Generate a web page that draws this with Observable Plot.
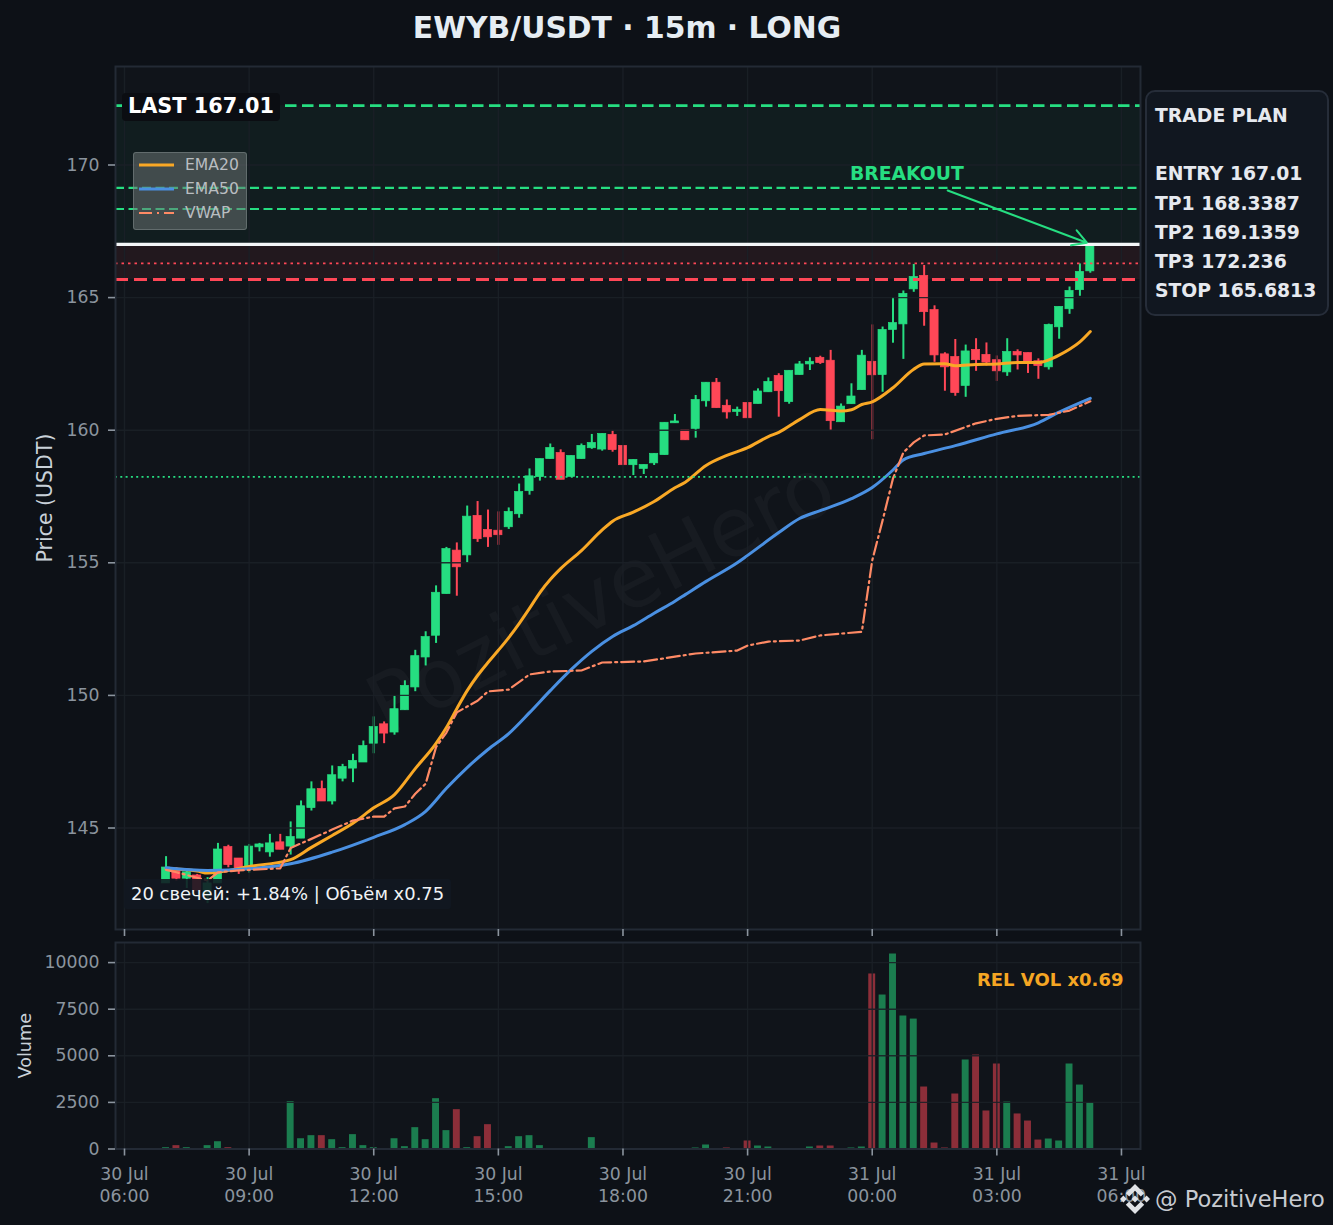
<!DOCTYPE html>
<html><head><meta charset="utf-8">
<script src="https://cdn.jsdelivr.net/npm/d3@7"></script>
<script src="https://cdn.jsdelivr.net/npm/@observablehq/plot@0.6"></script>
<style>
html,body{margin:0;padding:0;background:#0d1117;}
#page{position:relative;width:1333px;height:1225px;overflow:hidden;background:#0d1117;font-family:"DejaVu Sans",sans-serif;}
#page>svg,#page>div{position:absolute;}
#plots{left:0;top:0;width:1333px;height:1225px;}
#plots svg{position:absolute;left:0;max-width:none;}
.title{left:0;width:1254px;text-align:center;top:9px;font-weight:700;font-size:29.8px;color:#e6edf3;line-height:38px;}
.last{left:122px;top:93px;width:158px;height:28px;background:#0b0d12;border-radius:4px;color:#fff;font-weight:700;font-size:20.8px;line-height:27px;text-indent:6px;white-space:nowrap;}
.legend{left:133px;top:152px;width:112px;height:76px;background:rgba(110,118,118,.52);border:1px solid rgba(140,148,148,.45);border-radius:3px;}
.legend span{position:absolute;left:51px;font-size:15.6px;color:#b9bdc1;line-height:18px;}
.legend svg{position:absolute;left:5px;top:0;}
.note{left:124px;top:879px;width:327px;height:30px;background:rgba(17,24,33,.88);border-radius:3px;color:#f0f3f6;font-size:17.95px;line-height:30px;text-indent:7px;white-space:nowrap;}
.plan{left:1145px;top:90px;width:180px;height:222px;background:#111720;border:2px solid #262d39;border-radius:10px;color:#e6e9ef;font-weight:700;font-size:18.8px;line-height:29.2px;white-space:pre;padding:0;}
.plan div{position:absolute;left:8px;top:9px;}
.brand{left:1155px;top:1184px;font-size:22.5px;color:#c7cbd1;line-height:30px;white-space:nowrap;}
</style></head><body>
<div id="page">
<div id="plots"></div>
<div class="title">EWYB/USDT · 15m · LONG</div>
<div class="last">LAST 167.01</div>
<div class="legend">
<svg width="50" height="76"><line x1="0" x2="35" y1="12" y2="12" stroke="#f9a825" stroke-width="2.8"/><line x1="0" x2="35" y1="36" y2="36" stroke="#4a90e2" stroke-width="2.8"/><line x1="0" x2="35" y1="60" y2="60" stroke="#ff8a65" stroke-width="2.2" stroke-dasharray="13,5,2,5"/></svg>
<span style="top:3px">EMA20</span><span style="top:27px">EMA50</span><span style="top:51px">VWAP</span>
</div>
<div class="note">20 свечей: +1.84% | Объём x0.75</div>
<div class="plan"><div>TRADE PLAN

ENTRY 167.01
TP1 168.3387
TP2 169.1359
TP3 172.236
STOP 165.6813</div></div>
<svg style="left:1120px;top:1184px" width="30" height="30" viewBox="0 0 126.61 126.61"><path fill="#dfe2e6" d="M38.73 53.2l24.59-24.58 24.6 24.6 14.3-14.31L63.32 0 24.43 38.9zM0 63.31l14.3-14.31 14.31 14.31-14.31 14.3zM38.73 73.41l24.59 24.59 24.6-24.6 14.31 14.29-38.9 38.91-38.91-38.88-.02-.02zM98 63.31l14.3-14.31 14.31 14.3-14.31 14.32zM77.83 63.3l-14.51-14.52-10.73 10.73-1.24 1.23-2.54 2.54 14.51 14.5 14.51-14.47z"/></svg>
<div class="brand">@ PozitiveHero</div>
</div>
<script>
const opens=[142.91,143.43,143.09,143.21,142.45,142.91,144.28,143.85,143.48,144.27,144.08,144.46,144.3,144.6,145.75,146.47,146.0,146.86,147.24,147.47,148.18,148.91,148.6,149.44,150.3,151.43,152.25,153.82,155.46,155.28,156.77,156.24,156.21,156.34,156.83,157.7,158.23,158.91,159.14,158.24,158.91,159.32,159.27,159.82,159.41,158.68,158.54,158.75,159.06,160.26,159.99,160.05,161.09,161.79,160.92,160.69,161.03,160.99,161.43,162.05,161.06,162.08,162.48,162.73,162.62,160.3,160.98,161.51,162.58,162.08,163.78,163.99,165.31,165.82,164.53,162.86,162.76,161.67,163.03,162.84,162.64,162.18,162.95,162.91,162.6,162.37,163.88,164.56,165.28,165.99];
const highs=[143.92,143.5,143.4,143.25,143.13,144.42,144.35,143.85,144.38,144.42,144.76,144.76,145.23,146.02,146.74,146.77,147.34,147.4,147.78,148.28,149.19,149.0,149.98,150.55,151.7,152.4,154.13,155.58,155.75,157.14,157.31,156.99,156.92,157.07,157.97,158.54,158.91,159.48,159.26,159.03,159.48,159.84,159.86,159.99,159.41,158.88,158.69,159.11,160.28,160.59,159.99,161.31,161.79,161.95,161.14,160.87,161.03,161.56,161.97,162.13,162.24,162.59,162.73,162.79,163.01,160.99,161.75,163.01,163.97,163.89,164.99,165.25,166.25,166.21,164.69,162.92,163.42,163.21,163.45,163.29,162.8,163.45,163.03,162.91,162.69,164.0,164.65,165.4,166.27,167.01];
const lows=[142.91,143.0,142.72,142.61,142.15,142.91,143.5,143.25,143.3,144.1,143.9,144.18,143.98,144.6,145.64,146.0,145.87,146.74,146.71,147.47,147.8,148.18,148.5,149.44,150.14,151.11,151.96,153.82,153.74,154.98,155.77,155.58,155.66,156.26,156.68,157.55,158.08,158.91,158.13,158.24,158.91,159.28,159.21,159.17,158.68,158.29,158.33,158.67,159.06,160.26,159.62,159.7,160.87,160.83,160.42,160.52,160.45,160.99,161.43,160.49,160.98,162.08,162.25,162.48,159.99,160.3,160.98,161.51,159.64,161.43,163.28,162.67,165.2,163.92,162.56,161.47,161.28,161.24,162.22,162.42,161.84,162.03,162.27,162.14,161.92,162.27,163.43,164.37,165.05,165.92];
const closes=[143.51,143.09,143.33,142.61,142.91,144.19,143.6,143.4,144.3,144.38,144.42,144.18,144.66,145.82,146.46,146.0,146.99,147.3,147.53,148.09,148.81,148.56,149.48,150.36,151.48,152.2,153.87,155.52,154.83,156.74,155.89,155.96,156.04,156.92,157.67,158.26,158.91,159.33,158.13,159.03,159.41,159.52,159.86,159.25,158.68,158.88,158.69,159.11,160.28,160.33,159.62,161.14,161.79,160.83,160.67,160.77,160.45,161.46,161.82,161.47,162.24,162.48,162.58,162.53,160.34,160.89,161.27,162.81,162.07,163.78,164.04,165.14,165.78,164.45,162.82,162.37,161.4,162.97,162.64,162.55,162.22,162.95,162.82,162.53,162.42,163.97,164.65,165.25,165.97,167.01];
const volumes=[70,180,70,0,180,390,70,0,0,0,0,0,2540,550,715,715,500,70,770,180,70,0,550,125,1145,500,2700,985,2110,70,660,1305,0,125,660,715,180,0,0,0,0,610,0,0,0,0,0,0,0,0,0,54,215,0,54,0,430,160,107,0,0,0,107,160,160,0,54,107,9390,8260,10460,7135,6970,3325,320,54,2950,4775,5040,2040,4560,2520,1880,1500,480,535,430,4560,3430,2470];

const ema20Index=[0,3,4,8,12,14,16,18,20,22,24,26,27,28,29,30,31,32,33,34,35,36,37,38,40,42,43,45,47,49,50,52,54,56,58,59,61,63,65,66,67,68,70,72,73,75,76,78,80,82,84,85,86,87,88,89];
const ema20Values=[143.47,143.38,143.3,143.55,143.81,144.27,144.72,145.18,145.76,146.26,147.24,148.19,148.79,149.5,150.18,150.75,151.24,151.7,152.18,152.71,153.28,153.88,154.37,154.78,155.46,156.24,156.57,156.91,157.31,157.83,158.04,158.67,159.05,159.34,159.76,159.92,160.4,160.78,160.72,160.77,160.97,161.07,161.6,162.3,162.5,162.51,162.43,162.48,162.5,162.55,162.55,162.65,162.83,163.05,163.33,163.72];
const ema50Index=[0,4,8,12,16,20,23,25,27,29,31,33,35,37,39,41,43,45,47,49,50,52,55,56,59,61,63,66,68,70,71,73,76,80,84,86,89];
const ema50Values=[143.5,143.4,143.46,143.65,144.09,144.65,145.13,145.63,146.5,147.28,147.96,148.56,149.35,150.18,150.97,151.66,152.22,152.63,153.1,153.55,153.8,154.3,155.0,155.28,156.14,156.67,156.97,157.42,157.84,158.5,158.88,159.12,159.42,159.86,160.28,160.68,161.2];
const vwapIndex=[0,1,4,5,7,11,12,14,16,18,20,21,22,23,24,25,26,27,28,29,30,31,33,35,37,40,42,46,51,55,56,58,61,63,67,68,69,70,71,72,73,75,78,80,82,85,87,89];
const vwapValues=[143.42,143.33,143.02,143.33,143.4,143.48,144.25,144.59,144.94,145.28,145.43,145.43,145.74,145.81,146.29,146.67,148.05,148.6,149.36,149.58,149.8,150.15,150.22,150.79,150.9,150.94,151.24,151.28,151.58,151.69,151.88,152.03,152.07,152.26,152.4,155.09,156.6,158.18,159.16,159.54,159.8,159.84,160.26,160.43,160.54,160.58,160.74,161.09];

const priceTicks=[145,150,155,160,165,170];
const volumeTicks=[0,2500,5000,7500,10000];
const levels={tp3:172.236,tp2:169.1359,tp1:168.3387,entry:167.01,stop:165.6813,upperDot:166.29,lowerDot:158.24};
const arrowFrom=[Date.UTC(2025,6,31,1,49),169.04], arrowTo=[Date.UTC(2025,6,31,5,10),167.07];

const GREEN="#26de81",RED="#ff4757",AMBER="#f9a825",BLUE="#4a90e2",SALMON="#ff8a65";
const GRID="#1b2027",FRAME="#232a35",TICK="#8b949e",LABEL="#c9d1d9",PANEL="#10141a";
const MIN=60000;
const start=Date.UTC(2025,6,30,7,0);
const time=i=>new Date(start+i*15*MIN);
const tickDates=d3.range(0,9).map(k=>new Date(Date.UTC(2025,6,30,6+3*k,0)));
const xDomain=[new Date(Date.UTC(2025,6,30,5,47)),new Date(Date.UTC(2025,6,31,6,27,30))];
const candles=opens.map((o,i)=>({t:time(i),o,h:highs[i],l:lows[i],c:closes[i],v:volumes[i],color:closes[i]>=o?GREEN:RED}));
const series=(idx,vals)=>idx.map((k,j)=>({t:time(k),p:vals[j]}));
const mon=d=>d.toLocaleString("en-GB",{day:"numeric",month:"short",timeZone:"UTC"});
const hm=d=>d.toISOString().slice(11,16);
const shared={width:1333,style:{background:"transparent",fontFamily:"DejaVu Sans, sans-serif",overflow:"visible"}};
const dt=d=>new Date(d);
const holder=document.getElementById("plots");
const main=Plot.plot({...shared,height:940,marginTop:66,marginBottom:11,marginLeft:115,marginRight:193,
 x:{type:"utc",domain:xDomain},y:{domain:[141.173,173.714]},
 marks:[
  Plot.rect([0],{x1:()=>xDomain[0],x2:()=>xDomain[1],y1:()=>141.173,y2:()=>173.714,fill:PANEL}),
  Plot.rect([0],{x1:()=>xDomain[0],x2:()=>xDomain[1],y1:()=>levels.entry,y2:()=>levels.tp3,fill:GREEN,fillOpacity:.05}),
  Plot.rect([0],{x1:()=>xDomain[0],x2:()=>xDomain[1],y1:()=>levels.stop,y2:()=>levels.entry,fill:RED,fillOpacity:.08}),
  Plot.text(["PozitiveHero"],{x:()=>new Date(Date.UTC(2025,6,30,17,29)),y:()=>153.7,text:d=>d,rotate:-27,fontSize:82,fill:"#ffffff",fillOpacity:.032}),
  Plot.ruleX(candles,{x:"t",y1:"l",y2:"h",stroke:"color",strokeWidth:2}),
  Plot.rect(candles,{x1:d=>new Date(+d.t-5.9*MIN),x2:d=>new Date(+d.t+5.9*MIN),y1:"o",y2:"c",fill:"color",stroke:"color",strokeWidth:.7}),
  Plot.gridX(tickDates,{stroke:GRID,strokeOpacity:.9,strokeWidth:1.4}),
  Plot.gridY(priceTicks,{stroke:GRID,strokeOpacity:.9,strokeWidth:1.4}),
  Plot.line(series(ema20Index,ema20Values),{x:"t",y:"p",stroke:AMBER,strokeWidth:3,curve:"monotone-x"}),
  Plot.line(series(ema50Index,ema50Values),{x:"t",y:"p",stroke:BLUE,strokeWidth:3,curve:"monotone-x"}),
  Plot.line(series(vwapIndex,vwapValues),{x:"t",y:"p",stroke:SALMON,strokeWidth:2.2,strokeDasharray:"13,4,2,4"}),
  Plot.ruleY([levels.tp3],{stroke:GREEN,strokeWidth:2.8,strokeDasharray:"11.5,5.5"}),
  Plot.ruleY([levels.tp2],{stroke:GREEN,strokeWidth:2.1,strokeDasharray:"9,4.5"}),
  Plot.ruleY([levels.tp1],{stroke:GREEN,strokeWidth:2.1,strokeDasharray:"9,4.5"}),
  Plot.ruleY([levels.lowerDot],{stroke:GREEN,strokeWidth:1.6,strokeDasharray:"2,3.3"}),
  Plot.ruleY([levels.upperDot],{stroke:RED,strokeWidth:1.6,strokeDasharray:"2.5,4"}),
  Plot.ruleY([levels.stop],{stroke:RED,strokeWidth:3,strokeDasharray:"13,6"}),
  Plot.ruleY([levels.entry],{stroke:"#f4f6f8",strokeWidth:3.2}),
  Plot.arrow([0],{x1:()=>dt(arrowFrom[0]),y1:()=>arrowFrom[1],x2:()=>dt(arrowTo[0]),y2:()=>arrowTo[1],stroke:GREEN,strokeWidth:2,headLength:12,inset:0}),
  Plot.text(["BREAKOUT"],{x:()=>new Date(Date.UTC(2025,6,31,0,50)),y:()=>169.65,text:d=>d,fill:GREEN,fontSize:18.8,fontWeight:700}),
  Plot.frame({stroke:FRAME,strokeWidth:2}),
  Plot.axisX(tickDates,{anchor:"bottom",fill:"none",tickSize:7,stroke:TICK,strokeWidth:1.6,label:null}),
  Plot.axisY(priceTicks,{anchor:"left",tickSize:7,tickPadding:9,fontSize:17.3,stroke:TICK,fill:TICK,strokeWidth:1.6,label:null}),
  Plot.text(["Price (USDT)"],{frameAnchor:"left",dx:-70,text:d=>d,rotate:-90,textAnchor:"middle",fontSize:20.5,fill:LABEL})
 ]});
main.style.top="0px";

const vol=Plot.plot({...shared,height:290,marginTop:7,marginBottom:76.5,marginLeft:115,marginRight:193,
 x:{type:"utc",domain:xDomain},y:{domain:[0,11078]},
 marks:[
  Plot.rect([0],{x1:()=>xDomain[0],x2:()=>xDomain[1],y1:()=>0,y2:()=>11078,fill:PANEL}),
  Plot.rect(candles,{x1:d=>new Date(+d.t-5*MIN),x2:d=>new Date(+d.t+5*MIN),y1:()=>0,y2:"v",fill:"color",fillOpacity:.52}),
  Plot.gridX(tickDates,{stroke:GRID,strokeOpacity:.9,strokeWidth:1.4}),
  Plot.gridY(volumeTicks,{stroke:GRID,strokeOpacity:.9,strokeWidth:1.4}),
  Plot.text(["REL VOL x0.69"],{frameAnchor:"top-right",dx:-17,dy:31,text:d=>d,fill:"#f5a623",fontSize:18,fontWeight:700}),
  Plot.frame({stroke:FRAME,strokeWidth:2}),
  Plot.axisX(tickDates,{anchor:"bottom",tickSize:7,tickPadding:8,fontSize:17.3,lineHeight:1.27,stroke:TICK,fill:TICK,strokeWidth:1.6,label:null,tickFormat:d=>mon(d)+"\n"+hm(d)}),
  Plot.axisY(volumeTicks,{anchor:"left",tickSize:7,tickPadding:9,fontSize:17.3,stroke:TICK,fill:TICK,strokeWidth:1.6,label:null,tickFormat:d=>String(d)}),
  Plot.text(["Volume"],{frameAnchor:"left",dx:-90,text:d=>d,rotate:-90,textAnchor:"middle",fontSize:17.6,fill:LABEL})
 ]});
vol.style.top="935px";
holder.append(main,vol);
</script>
</body></html>
